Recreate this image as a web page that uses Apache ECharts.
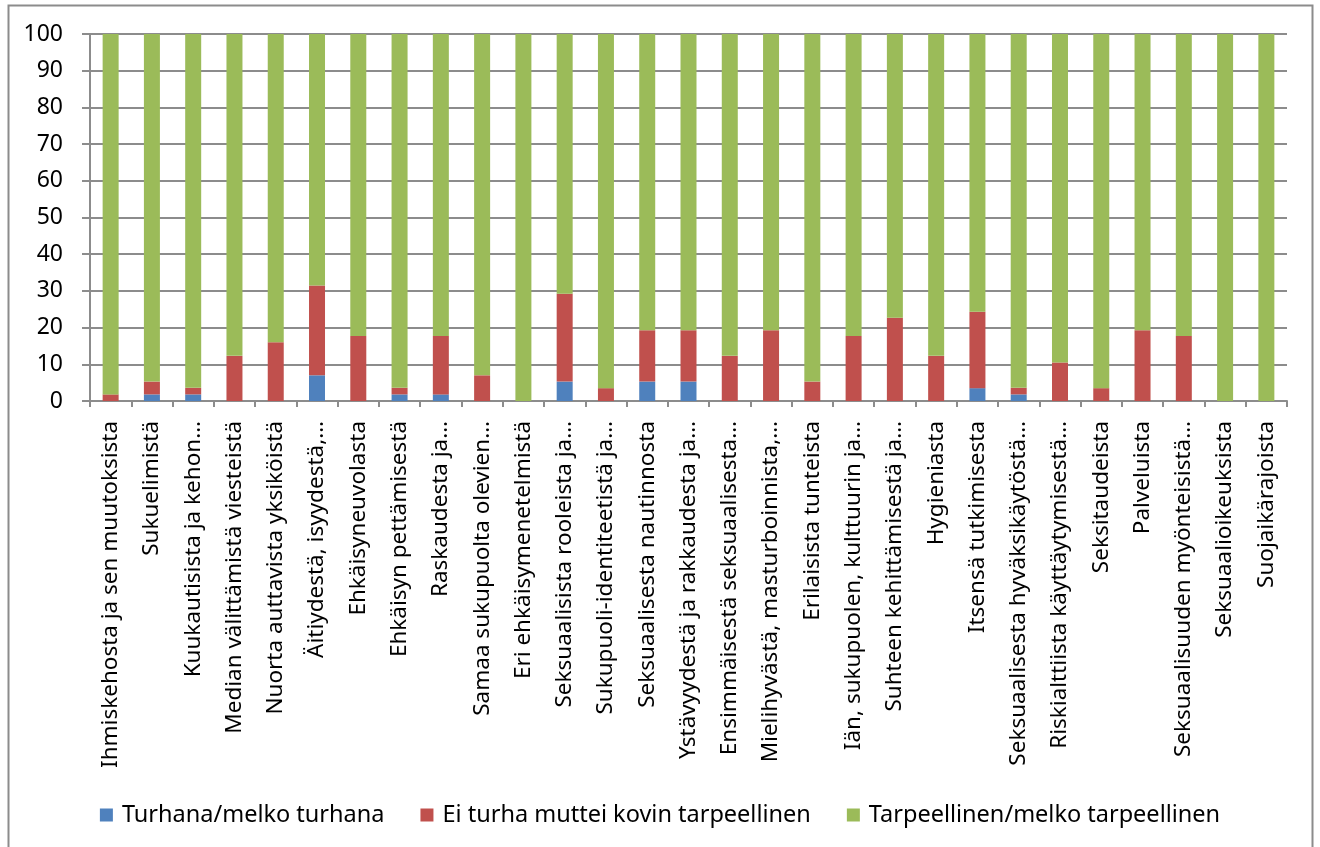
<!DOCTYPE html>
<html><head><meta charset="utf-8">
<script src="https://cdn.jsdelivr.net/npm/echarts@6/dist/echarts.min.js"></script>
<style>html,body{margin:0;padding:0;background:#fff;}#c{width:1320px;height:847px;}</style>
</head><body><div id="c"></div>
<script>
const categories = [
  "Ihmiskehosta ja sen muutoksista","Sukuelimistä","Kuukautisista ja kehon…","Median välittämistä viesteistä",
  "Nuorta auttavista yksiköistä","Äitiydestä, isyydestä,…","Ehkäisyneuvolasta","Ehkäisyn pettämisestä",
  "Raskaudesta ja…","Samaa sukupuolta olevien…","Eri ehkäisymenetelmistä","Seksuaalisista rooleista ja…",
  "Sukupuoli-identiteetistä ja…","Seksuaalisesta nautinnosta","Ystävyydestä ja rakkaudesta ja…",
  "Ensimmäisestä seksuaalisesta…","Mielihyvästä, masturboinnista,…","Erilaisista tunteista",
  "Iän, sukupuolen, kulttuurin ja…","Suhteen kehittämisestä ja…","Hygieniasta","Itsensä tutkimisesta",
  "Seksuaalisesta hyväksikäytöstä…","Riskialttiista käyttäytymisestä…","Seksitaudeista","Palveluista",
  "Seksuaalisuuden myönteisistä…","Seksuaalioikeuksista","Suojaikärajoista"
];
const seriesNames = ["Turhana/melko turhana","Ei turha muttei kovin tarpeellinen","Tarpeellinen/melko tarpeellinen"];
const turhana = [0,1.8,1.8,0,0,7.0,0,1.8,1.8,0,0,5.3,0,5.3,5.3,0,0,0,0,0,0,3.5,1.8,0,0,0,0,0,0];
const eiTurha = [1.8,3.5,1.8,12.3,16.0,24.5,17.7,1.8,15.9,7.0,0,23.9,3.5,14.0,14.0,12.3,19.3,5.3,17.7,22.7,12.3,20.8,1.8,10.5,3.5,19.3,17.7,0,0];
const tarpeellinen = [98.2,94.7,96.4,87.7,84.0,68.5,82.3,96.4,82.3,93.0,100,70.8,96.5,80.7,80.7,87.7,80.7,94.7,82.3,77.3,87.7,75.7,96.4,89.5,96.5,80.7,82.3,100,100];
const yTicks = [0,10,20,30,40,50,60,70,80,90,100];

const colors = ["#4F81BD","#C0504D","#9BBB59"];
const FONT = "Noto Sans";
const chart = echarts.init(document.getElementById('c'));
const mk = (name, data, i) => ({
  name, type: 'bar', stack: 'a', data, barWidth: 16,
  itemStyle: { color: colors[i] }, emphasis: { disabled: true }
});
chart.setOption({
  animation: false,
  textStyle: { fontFamily: FONT },
  graphic: [{ type: 'rect', shape: { x: 8.5, y: 5.5, width: 1304, height: 845 },
    style: { fill: 'none', stroke: '#8c8c8c', lineWidth: 2 }, silent: true }],
  grid: { left: 90, right: 33, top: 34, bottom: 446, containLabel: false },
  legend: {
    top: 798, left: 'center', itemWidth: 13, itemHeight: 13, itemGap: 36,
    icon: 'rect', textStyle: { fontSize: 23.5, color: '#000', fontFamily: FONT, padding: [0, 0, 0, 4] },
    data: seriesNames
  },
  xAxis: {
    type: 'category', data: categories,
    axisLine: { lineStyle: { color: '#8c8c8c', width: 2 } },
    axisTick: { show: true, length: 6, lineStyle: { color: '#8c8c8c', width: 2 } },
    axisLabel: { rotate: 90, fontSize: 22.5, color: '#000', margin: 20, interval: 0, fontFamily: FONT }
  },
  yAxis: {
    type: 'value', min: yTicks[0], max: yTicks[yTicks.length-1], interval: 10,
    axisLine: { show: true, lineStyle: { color: '#8c8c8c', width: 2 } },
    axisTick: { show: true, length: 8, inside: false, lineStyle: { color: '#8c8c8c', width: 2 } },
    splitLine: { lineStyle: { color: '#8c8c8c', width: 2 } },
    axisLabel: { fontSize: 23, color: '#000', margin: 27, fontFamily: FONT }
  },
  series: [mk(seriesNames[0], turhana, 0), mk(seriesNames[1], eiTurha, 1), mk(seriesNames[2], tarpeellinen, 2)]
});
</script></body></html>
